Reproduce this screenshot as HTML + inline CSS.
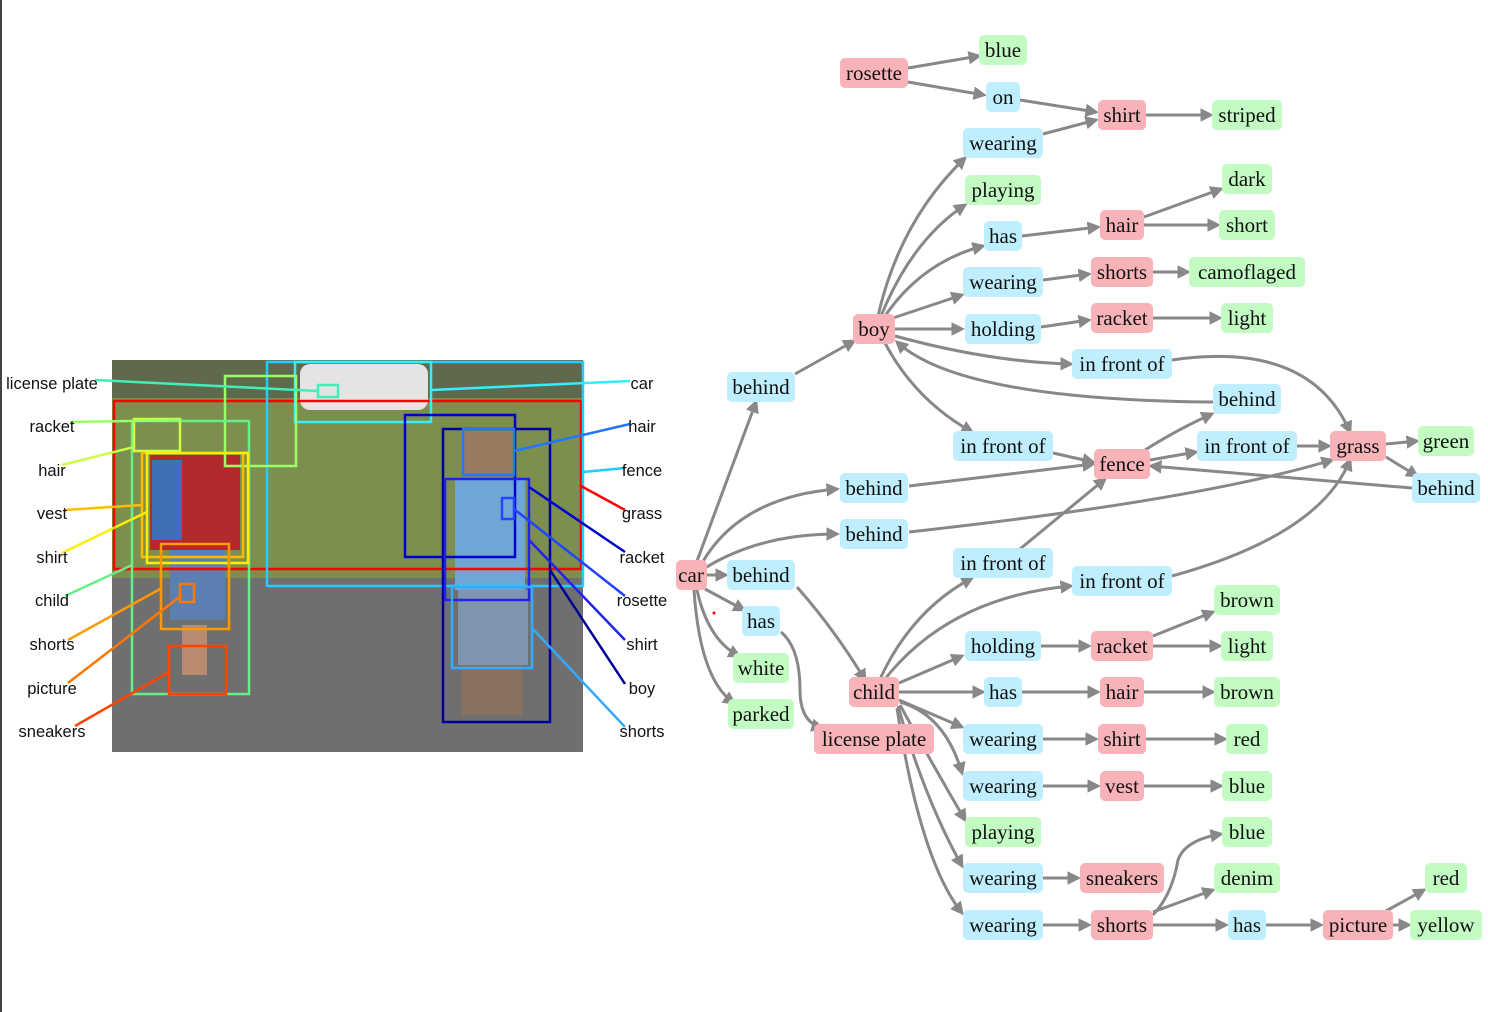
<!DOCTYPE html>
<html><head><meta charset="utf-8"><style>
html,body{margin:0;padding:0;background:#fff;width:1488px;height:1012px;overflow:hidden}
svg{display:block}
.n text{font-family:"Liberation Serif",serif;font-size:21px;fill:#111;text-anchor:middle;dominant-baseline:central}
.lb{font-family:"Liberation Sans",sans-serif;font-size:16.5px;fill:#111;text-anchor:middle;dominant-baseline:central}
.e path{fill:none;stroke:#888;stroke-width:3;marker-end:url(#a)}
.bx rect{fill:none;stroke-width:2.5}
.ld line{stroke-width:2.5}
</style></head><body>
<svg width="1488" height="1012" viewBox="0 0 1488 1012" xmlns="http://www.w3.org/2000/svg">
<defs><marker id="a" markerWidth="4.5" markerHeight="4.5" refX="3.5" refY="2.25" orient="auto" markerUnits="strokeWidth"><path d="M0,0 L4.5,2.25 L0,4.5 z" fill="#888"/></marker></defs>
<rect x="0" y="0" width="2" height="1012" fill="#444"/>

<!-- photo -->
<rect x="112" y="360" width="471" height="392" fill="#6b6d6a"/>
<rect x="112" y="360" width="471" height="40" fill="#5f6a4c"/>
<rect x="112" y="398" width="471" height="180" fill="#7c8f4e"/>
<rect x="112" y="578" width="471" height="174" fill="#6f6f70"/>
<rect x="300" y="364" width="128" height="46" rx="10" fill="#e4e4e4"/>
<rect x="150" y="455" width="90" height="95" fill="#b12a2c"/>
<rect x="152" y="460" width="30" height="80" fill="#3f6fb5"/>
<rect x="170" y="550" width="55" height="70" fill="#5a7fb0"/>
<rect x="182" y="625" width="25" height="50" fill="#b88a70"/>
<rect x="455" y="480" width="70" height="110" fill="#6fa6d5"/>
<rect x="458" y="590" width="70" height="75" fill="#7f95ad"/>
<rect x="462" y="432" width="50" height="45" fill="#9a7a5e"/>
<rect x="462" y="665" width="60" height="50" fill="#8a7260"/>

<g class="bx">
<rect x="114" y="401" width="467" height="168" stroke="#f00"/>
<rect x="267" y="362" width="316" height="224" stroke="#2cf"/>
<rect x="295" y="362" width="136" height="60" stroke="#3ef"/>
<rect x="318" y="385" width="20" height="12" stroke="#4eb"/>
<rect x="225" y="376" width="71" height="90" stroke="#9f6"/>
<rect x="132" y="421" width="117" height="273" stroke="#6e8"/>
<rect x="134" y="419" width="46" height="32" stroke="#cf4"/>
<rect x="142" y="453" width="101" height="104" stroke="#fb0"/>
<rect x="147" y="453" width="101" height="110" stroke="#fe0"/>
<rect x="161" y="544" width="68" height="85" stroke="#f90"/>
<rect x="180" y="584" width="14" height="18" stroke="#f70"/>
<rect x="169" y="646" width="57" height="48" stroke="#f40"/>
<rect x="405" y="415" width="110" height="142" stroke="#00c"/>
<rect x="443" y="429" width="107" height="293" stroke="#009"/>
<rect x="463" y="429" width="51" height="46" stroke="#27f"/>
<rect x="445" y="479" width="84" height="121" stroke="#22e"/>
<rect x="502" y="498" width="12" height="21" stroke="#24f"/>
<rect x="452" y="587" width="80" height="81" stroke="#3af"/>
</g>
<g class="ld">
<line x1="95" y1="380" x2="318" y2="391" stroke="#4eb"/>
<line x1="70" y1="422" x2="180" y2="420" stroke="#9f6"/>
<line x1="62" y1="465" x2="134" y2="447" stroke="#cf4"/>
<line x1="65" y1="510" x2="142" y2="505" stroke="#fb0"/>
<line x1="62" y1="553" x2="147" y2="512" stroke="#fe0"/>
<line x1="65" y1="596" x2="132" y2="565" stroke="#6e8"/>
<line x1="68" y1="640" x2="162" y2="588" stroke="#f90"/>
<line x1="68" y1="683" x2="182" y2="595" stroke="#f70"/>
<line x1="75" y1="726" x2="169" y2="672" stroke="#f40"/>
<line x1="630" y1="381" x2="431" y2="390" stroke="#3ef"/>
<line x1="630" y1="424" x2="514" y2="451" stroke="#27f"/>
<line x1="625" y1="468" x2="583" y2="472" stroke="#2cf"/>
<line x1="625" y1="510" x2="581" y2="486" stroke="#f00"/>
<line x1="625" y1="552" x2="529" y2="487" stroke="#00c"/>
<line x1="625" y1="596" x2="514" y2="509" stroke="#24f"/>
<line x1="625" y1="640" x2="529" y2="540" stroke="#22e"/>
<line x1="625" y1="684" x2="550" y2="570" stroke="#009"/>
<line x1="625" y1="727" x2="532" y2="628" stroke="#3af"/>
</g>
<g>
<text class="lb" x="52" y="384">license plate</text>
<text class="lb" x="52" y="427">racket</text>
<text class="lb" x="52" y="471">hair</text>
<text class="lb" x="52" y="514">vest</text>
<text class="lb" x="52" y="558">shirt</text>
<text class="lb" x="52" y="601">child</text>
<text class="lb" x="52" y="645">shorts</text>
<text class="lb" x="52" y="689">picture</text>
<text class="lb" x="52" y="732">sneakers</text>
<text class="lb" x="642" y="384">car</text>
<text class="lb" x="642" y="427">hair</text>
<text class="lb" x="642" y="471">fence</text>
<text class="lb" x="642" y="514">grass</text>
<text class="lb" x="642" y="558">racket</text>
<text class="lb" x="642" y="601">rosette</text>
<text class="lb" x="642" y="645">shirt</text>
<text class="lb" x="642" y="689">boy</text>
<text class="lb" x="642" y="732">shorts</text>
</g>

<!-- edges -->
<g class="e">
<path d="M908,68 L979,56"/>
<path d="M908,82 L984,95"/>
<path d="M1020,100 L1096,112"/>
<path d="M1043,134 L1096,120"/>
<path d="M1146,115 L1211,115"/>
<path d="M878,316 Q900,220 965,158"/>
<path d="M881,316 Q912,240 965,205"/>
<path d="M885,316 Q922,262 983,246"/>
<path d="M893,318 L962,295"/>
<path d="M895,329 L962,329"/>
<path d="M1022,236 L1098,227"/>
<path d="M1144,217 L1221,189"/>
<path d="M1144,225 L1218,225"/>
<path d="M1043,280 L1089,274"/>
<path d="M1153,272 L1188,272"/>
<path d="M1041,327 L1089,320"/>
<path d="M1153,318 L1220,318"/>
<path d="M697,561 L756,402"/>
<path d="M795,374 L854,341"/>
<path d="M895,336 Q990,362 1071,364"/>
<path d="M1172,360 Q1310,340 1350,432"/>
<path d="M1213,402 Q960,400 897,342"/>
<path d="M885,343 Q915,400 972,432"/>
<path d="M1053,453 L1093,462"/>
<path d="M1150,460 L1196,452"/>
<path d="M1297,446 L1329,446"/>
<path d="M1386,444 L1417,441"/>
<path d="M1386,457 L1417,476"/>
<path d="M1412,488 L1151,466"/>
<path d="M1145,450 Q1180,428 1212,414"/>
<path d="M702,563 Q740,497 837,489"/>
<path d="M909,486 L1093,464"/>
<path d="M705,568 Q760,534 837,534"/>
<path d="M909,532 Q1200,500 1332,460"/>
<path d="M707,575 L726,575"/>
<path d="M797,587 Q835,630 865,680"/>
<path d="M880,679 Q912,610 972,578"/>
<path d="M1020,549 L1105,479"/>
<path d="M885,679 Q950,597 1071,586"/>
<path d="M1172,576 Q1320,535 1350,460"/>
<path d="M705,589 L744,610"/>
<path d="M781,632 Q800,648 800,690 Q800,722 822,728"/>
<path d="M697,590 Q708,640 739,656"/>
<path d="M694,590 Q700,680 734,703"/>
<path d="M899,683 L962,656"/>
<path d="M1041,646 L1089,646"/>
<path d="M1153,636 L1213,612"/>
<path d="M1153,646 L1220,646"/>
<path d="M899,692 L983,692"/>
<path d="M1022,692 L1098,692"/>
<path d="M1144,692 L1213,692"/>
<path d="M899,700 L962,727"/>
<path d="M900,702 Q945,715 962,773"/>
<path d="M900,705 Q930,760 965,820"/>
<path d="M898,706 Q925,800 962,866"/>
<path d="M897,708 Q920,860 962,913"/>
<path d="M1043,739 L1096,739"/>
<path d="M1146,739 L1225,739"/>
<path d="M1043,786 L1098,786"/>
<path d="M1144,786 L1221,786"/>
<path d="M1043,878 L1078,878"/>
<path d="M1043,925 L1089,925"/>
<path d="M1153,915 Q1172,895 1178,860 Q1185,840 1221,834"/>
<path d="M1153,912 L1213,890"/>
<path d="M1153,925 L1226,925"/>
<path d="M1266,925 L1321,925"/>
<path d="M1386,911 L1424,890"/>
<path d="M1393,925 L1409,925"/>
</g>

<!-- nodes -->
<g class="n">
<g fill="#f7b3b8">
<rect x="840" y="58" width="68" height="30" rx="5"/>
<rect x="1098" y="100" width="48" height="30" rx="5"/>
<rect x="1100" y="210" width="44" height="30" rx="5"/>
<rect x="1091" y="257" width="62" height="30" rx="5"/>
<rect x="1091" y="303" width="62" height="30" rx="5"/>
<rect x="853" y="314" width="42" height="30" rx="5"/>
<rect x="1094" y="449" width="56" height="30" rx="5"/>
<rect x="1330" y="431" width="56" height="30" rx="5"/>
<rect x="676" y="560" width="31" height="30" rx="5"/>
<rect x="1091" y="631" width="62" height="30" rx="5"/>
<rect x="849" y="677" width="50" height="30" rx="5"/>
<rect x="1100" y="677" width="44" height="30" rx="5"/>
<rect x="814" y="724" width="120" height="30" rx="5"/>
<rect x="1098" y="724" width="48" height="30" rx="5"/>
<rect x="1100" y="771" width="44" height="30" rx="5"/>
<rect x="1080" y="863" width="84" height="30" rx="5"/>
<rect x="1091" y="910" width="62" height="30" rx="5"/>
<rect x="1323" y="910" width="70" height="30" rx="5"/>
</g>
<g fill="#bfeefe">
<rect x="986" y="82" width="34" height="30" rx="5"/>
<rect x="963" y="128" width="80" height="30" rx="5"/>
<rect x="984" y="221" width="38" height="30" rx="5"/>
<rect x="963" y="267" width="80" height="30" rx="5"/>
<rect x="965" y="314" width="76" height="30" rx="5"/>
<rect x="727" y="372" width="68" height="30" rx="5"/>
<rect x="1072" y="349" width="100" height="30" rx="5"/>
<rect x="1213" y="384" width="68" height="30" rx="5"/>
<rect x="953" y="431" width="100" height="30" rx="5"/>
<rect x="1197" y="431" width="100" height="30" rx="5"/>
<rect x="1412" y="473" width="68" height="30" rx="5"/>
<rect x="840" y="473" width="68" height="30" rx="5"/>
<rect x="840" y="519" width="68" height="30" rx="5"/>
<rect x="727" y="560" width="68" height="30" rx="5"/>
<rect x="953" y="548" width="100" height="30" rx="5"/>
<rect x="1072" y="566" width="100" height="30" rx="5"/>
<rect x="742" y="606" width="38" height="30" rx="5"/>
<rect x="965" y="631" width="76" height="30" rx="5"/>
<rect x="984" y="677" width="38" height="30" rx="5"/>
<rect x="963" y="724" width="80" height="30" rx="5"/>
<rect x="963" y="771" width="80" height="30" rx="5"/>
<rect x="963" y="863" width="80" height="30" rx="5"/>
<rect x="963" y="910" width="80" height="30" rx="5"/>
<rect x="1228" y="910" width="38" height="30" rx="5"/>
</g>
<g fill="#c3fcc3">
<rect x="979" y="35" width="48" height="30" rx="5"/>
<rect x="1212" y="100" width="70" height="30" rx="5"/>
<rect x="965" y="175" width="76" height="30" rx="5"/>
<rect x="1222" y="164" width="50" height="30" rx="5"/>
<rect x="1219" y="210" width="56" height="30" rx="5"/>
<rect x="1189" y="257" width="116" height="30" rx="5"/>
<rect x="1221" y="303" width="52" height="30" rx="5"/>
<rect x="1418" y="426" width="56" height="30" rx="5"/>
<rect x="1214" y="585" width="66" height="30" rx="5"/>
<rect x="1221" y="631" width="52" height="30" rx="5"/>
<rect x="733" y="653" width="56" height="30" rx="5"/>
<rect x="1214" y="677" width="66" height="30" rx="5"/>
<rect x="728" y="699" width="66" height="30" rx="5"/>
<rect x="1226" y="724" width="42" height="30" rx="5"/>
<rect x="1222" y="771" width="50" height="30" rx="5"/>
<rect x="965" y="817" width="76" height="30" rx="5"/>
<rect x="1222" y="817" width="50" height="30" rx="5"/>
<rect x="1214" y="863" width="66" height="30" rx="5"/>
<rect x="1425" y="863" width="42" height="30" rx="5"/>
<rect x="1410" y="910" width="72" height="30" rx="5"/>
</g>
<text x="874" y="73">rosette</text>
<text x="1122" y="115">shirt</text>
<text x="1122" y="225">hair</text>
<text x="1122" y="272">shorts</text>
<text x="1122" y="318">racket</text>
<text x="874" y="329">boy</text>
<text x="1122" y="464">fence</text>
<text x="1358" y="446">grass</text>
<text x="691" y="575">car</text>
<text x="1122" y="646">racket</text>
<text x="874" y="692">child</text>
<text x="1122" y="692">hair</text>
<text x="874" y="739">license plate</text>
<text x="1122" y="739">shirt</text>
<text x="1122" y="786">vest</text>
<text x="1122" y="878">sneakers</text>
<text x="1122" y="925">shorts</text>
<text x="1358" y="925">picture</text>
<text x="1003" y="97">on</text>
<text x="1003" y="143">wearing</text>
<text x="1003" y="236">has</text>
<text x="1003" y="282">wearing</text>
<text x="1003" y="329">holding</text>
<text x="761" y="387">behind</text>
<text x="1122" y="364">in front of</text>
<text x="1247" y="399">behind</text>
<text x="1003" y="446">in front of</text>
<text x="1247" y="446">in front of</text>
<text x="1446" y="488">behind</text>
<text x="874" y="488">behind</text>
<text x="874" y="534">behind</text>
<text x="761" y="575">behind</text>
<text x="1003" y="563">in front of</text>
<text x="1122" y="581">in front of</text>
<text x="761" y="621">has</text>
<text x="1003" y="646">holding</text>
<text x="1003" y="692">has</text>
<text x="1003" y="739">wearing</text>
<text x="1003" y="786">wearing</text>
<text x="1003" y="878">wearing</text>
<text x="1003" y="925">wearing</text>
<text x="1247" y="925">has</text>
<text x="1003" y="50">blue</text>
<text x="1247" y="115">striped</text>
<text x="1003" y="190">playing</text>
<text x="1247" y="179">dark</text>
<text x="1247" y="225">short</text>
<text x="1247" y="272">camoflaged</text>
<text x="1247" y="318">light</text>
<text x="1446" y="441">green</text>
<text x="1247" y="600">brown</text>
<text x="1247" y="646">light</text>
<text x="761" y="668">white</text>
<text x="1247" y="692">brown</text>
<text x="761" y="714">parked</text>
<text x="1247" y="739">red</text>
<text x="1247" y="786">blue</text>
<text x="1003" y="832">playing</text>
<text x="1247" y="832">blue</text>
<text x="1247" y="878">denim</text>
<text x="1446" y="878">red</text>
<text x="1446" y="925">yellow</text>
</g>
<circle cx="714" cy="613" r="1.5" fill="#f00"/>
</svg>
</body></html>
